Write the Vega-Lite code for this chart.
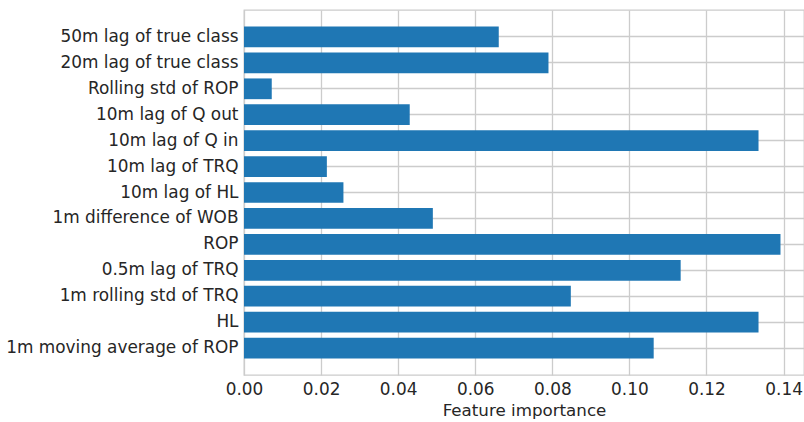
{
  "$schema": "https://vega.github.io/schema/vega-lite/v6.json",
  "autosize": {"type": "none"},
  "padding": {"left": 244, "top": 10, "right": 0, "bottom": 47},
  "width": 560,
  "height": 365,
  "background": "white",
  "data": {"values": [
    {"feature": "50m lag of true class", "importance": 0.0661},
    {"feature": "20m lag of true class", "importance": 0.0790},
    {"feature": "Rolling std of ROP", "importance": 0.0072},
    {"feature": "10m lag of Q out", "importance": 0.0430},
    {"feature": "10m lag of Q in", "importance": 0.1335},
    {"feature": "10m lag of TRQ", "importance": 0.0215},
    {"feature": "10m lag of HL", "importance": 0.0258},
    {"feature": "1m difference of WOB", "importance": 0.0490},
    {"feature": "ROP", "importance": 0.1392},
    {"feature": "0.5m lag of TRQ", "importance": 0.1133},
    {"feature": "1m rolling std of TRQ", "importance": 0.0848},
    {"feature": "HL", "importance": 0.1335},
    {"feature": "1m moving average of ROP", "importance": 0.1063}
  ]},
  "config": {
    "view": {"stroke": "#cccccc", "strokeWidth": 1.3},
    "font": "DejaVu Sans",
    "axis": {
      "gridColor": "#cccccc",
      "gridWidth": 1.3,
      "gridOpacity": 1,
      "domain": false,
      "ticks": false,
      "labelFont": "DejaVu Sans",
      "labelFontSize": 16.9,
      "labelColor": "#262626",
      "labelLimit": 400,
      "titleFont": "DejaVu Sans",
      "titleFontSize": 16.7,
      "titleFontWeight": "normal",
      "titleColor": "#262626"
    }
  },
  "mark": {"type": "bar", "color": "#1f77b4"},
  "encoding": {
    "y": {
      "field": "feature",
      "type": "nominal",
      "sort": null,
      "scale": {"paddingInner": 0.2, "paddingOuter": 0.64},
      "axis": {"title": null, "bandPosition": 0.5, "labelPadding": 6, "grid": true}
    },
    "x": {
      "field": "importance",
      "type": "quantitative",
      "scale": {"domain": [0, 0.1453], "nice": false},
      "axis": {
        "title": "Feature importance",
        "values": [0, 0.02, 0.04, 0.06, 0.08, 0.1, 0.12, 0.14],
        "format": ".2f",
        "labelFlush": false,
        "labelOverlap": false,
        "labelBound": false,
        "labelPadding": 6,
        "titlePadding": 6
      }
    }
  }
}
